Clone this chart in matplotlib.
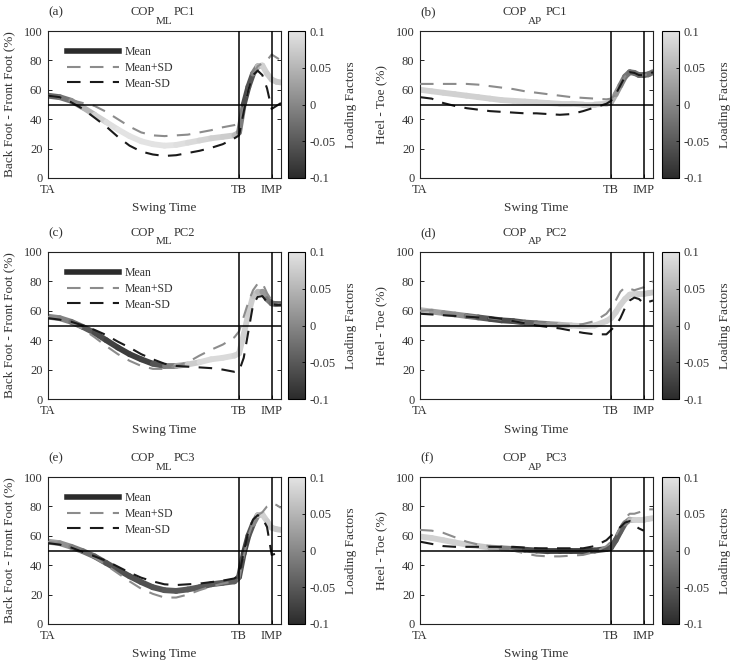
import numpy as np
import matplotlib
matplotlib.use('Agg')
import matplotlib.pyplot as plt
from matplotlib.collections import LineCollection
from matplotlib.colors import LinearSegmentedColormap, Normalize
from matplotlib.cm import ScalarMappable
from matplotlib.lines import Line2D

plt.rcParams['font.family'] = ['Liberation Serif', 'DejaVu Serif']

nan = np.nan
# ---------------- data ----------------
swing_time = [0, 5, 10, 15, 20, 25, 30, 35, 40, 45, 50, 55, 60, 65, 70, 75, 80,
              82, 84, 86, 88, 90, 92, 94, 96, 98, 100]
tick_pos = [0, 82, 96]
tick_labels = ['TA', 'TB', 'IMP']
events = [82, 96]

# (a) COP_ML PC1
mean_a = [56, 55, 52.5, 48, 43, 38, 33, 28.5, 25, 23, 22, 22.5, 24, 25.5, 27, 28, 29,
          31, 50, 62, 71, 76, 76.5, 71, 67, 65.5, 65]
plus_a = [56, 55, 53, 51, 49, 45, 40, 35, 31, 29, 28.5, 29, 29.5, 31, 32.5, 34.5, 36,
          37, 47, 60, 70, 76, 78, 80, 84, 82, 80]
minus_a = [56, 55, 51.5, 47, 41, 35, 28, 22, 18, 16, 15, 15.5, 17, 18.5, 20.5, 23, 27,
           29, 45, 60, 70, 73, 70, 61, 47, 49, 51]
load_a = [-0.04, -0.03, -0.01, 0.03, 0.07, 0.09, 0.1, 0.1, 0.1, 0.1, 0.1, 0.1, 0.09, 0.09, 0.08, 0.08, 0.07,
          0.04, -0.06, -0.07, -0.04, 0.03, 0.08, 0.08, 0.07, 0.07, 0.07]

# (b) COP_AP PC1
mean_b = [60, 59, 58, 57, 56, 55, 54, 53, 52.5, 52, 51.5, 51, 50.5, 50.5, 50, 50, 50.5,
          51.5, 57, 63, 69, 72, 71.5, 70, 70, 70.5, 72]
plus_b = [64, 64, 64, 64, 64, 63.5, 62.5, 61.5, 60.5, 59, 58, 57, 56, 55, 54.5, 54, 53.5,
          54, 57, 63, 69, 72, 71.5, 70, 70, 70.5, 72]
minus_b = [55, 54, 51, 49, 47.5, 46.5, 45.5, 45, 44.5, 44, 44, 43.5, 43, 43.5, 45.5, 48, 50.5,
           52.5, 57, 63, 69, 72, 71.5, 70, 70, 70.5, 72]
load_b = [0.08, 0.08, 0.08, 0.08, 0.08, 0.08, 0.08, 0.08, 0.08, 0.08, 0.08, 0.08, 0.08, 0.08, 0.08, 0.08, 0.07,
          0.06, 0.03, 0.0, -0.02, -0.02, -0.03, -0.02, -0.04, -0.03, -0.02]

# (c) COP_ML PC2
mean_c = [56, 55, 52.5, 49, 45, 40, 35, 30.5, 27, 24, 22.5, 22.5, 23.5, 25, 27, 28, 29.5,
          31, 44, 58, 70, 73, 73, 68, 65, 64.5, 64.5]
plus_c = [56, 54.5, 52, 47.5, 42, 36, 30.5, 26, 22.5, 20.5, 20.5, 22.5, 25, 29.5, 33.5, 37, 42,
          46, 56, 66, 74, 78.5, 79, 72, 67, 65, 64]
minus_c = [55, 54, 52.5, 50, 47, 43.5, 39, 35, 30.5, 27, 24, 22.5, 22, 21.5, 21, 20, 18.5,
           19, 28, 46, 64, 69.5, 70, 66, 64.5, 64, 64]
load_c = [0.0, 0.0, -0.01, -0.04, -0.06, -0.07, -0.08, -0.08, -0.08, -0.07, -0.04, 0.02, 0.06, 0.09, 0.09, 0.09, 0.09,
          0.08, 0.08, 0.08, 0.07, 0.06, 0.04, 0.0, -0.03, -0.03, -0.03]

# (d) COP_AP PC2
mean_d = [60.5, 59.5, 58.5, 57.5, 56.5, 55.5, 54.5, 53.5, 53, 52, 51.5, 51, 50.5, 50, 49.5, 50, 53,
          55, 59, 64, 68, 71, 71.5, 71.5, 71.5, 72, 72.5]
plus_d = [60, 60.5, 59, 58, 57, 56, 55, 54, 53, 52, 51.5, 51, 50, 50, 51, 53, 58,
          62, 67, 73, 76, 75, 74, 75, 76, 79, 80]
minus_d = [58, 57.5, 57, 56.5, 56, 55.5, 55.5, 54.5, 53, 51.5, 50, 49, 48, 46.5, 45, 44, 44,
           47, 50, 55, 62, 67, 69, 68, 65, 66, 67]
load_d = [0.06, 0.05, 0.0, 0.02, 0.0, -0.04, -0.06, -0.07, -0.06, -0.05, -0.03, 0.0, 0.04, 0.07, 0.08, 0.08, 0.08,
          0.08, 0.08, 0.08, 0.08, 0.08, 0.08, 0.08, 0.07, 0.07, 0.07]

# (e) COP_ML PC3
mean_e = [56, 55, 52.5, 49.5, 46, 41.5, 37, 32.5, 28.5, 25, 23, 22.5, 23.5, 25, 27, 28, 29,
          32, 48, 60, 68, 74, 74.5, 70, 65.5, 64.5, 64]
plus_e = [56, 55, 52.5, 49, 45, 40, 34.5, 29, 24, 20.5, 18, 18, 20, 23, 25.5, 27.5, 29,
          30, 46, 60, 69, 74, 76, 80, 82, 81, 79]
minus_e = [55, 54, 52, 49, 46, 43, 39, 35, 31.5, 29, 27, 26.5, 27, 27.5, 28.5, 29.5, 31,
           33, 49, 63, 71, 74, 72, 66, 47, 48, 52]
load_e = [0.03, 0.02, 0.0, -0.02, -0.03, -0.05, -0.06, -0.06, -0.06, -0.06, -0.05, -0.05, -0.05, -0.05, -0.05, -0.05, -0.04,
          -0.05, -0.07, -0.07, -0.04, 0.04, 0.08, 0.08, 0.07, 0.07, 0.07]

# (f) COP_AP PC3
mean_f = [59.5, 58.5, 57, 55.5, 54, 53, 52, 51.5, 51, 50.5, 50, 49.5, 49.5, 49.5, 49.5, 50, 51,
          52, 57, 63, 68.5, 71, 71, 71, 71, 71.5, 72]
plus_f = [64, 63.5, 62, 59, 56, 54, 53, 52, 50, 48, 46.5, 46, 46, 46.5, 47, 49, 53,
          56, 60, 66, 72, 75, 75, 76, 77, 78, 78]
minus_f = [56, 54.5, 53, 52.5, 52.5, 52.5, 52.5, 52.5, 52.5, 52, 51.5, 51.5, 51.5, 51.5, 51.5, 53, 57,
           60, 63, 66, 69, 70, 67, 65, 63.5, nan, nan]
load_f = [0.08, 0.08, 0.08, 0.08, 0.08, 0.08, 0.06, 0.02, -0.03, -0.06, -0.07, -0.07, -0.08, -0.08, -0.08, -0.07, -0.06,
          -0.05, -0.05, -0.05, -0.04, 0.03, 0.08, 0.08, 0.08, 0.08, 0.08]

panels = [
    ('(a)', 'ML', 'PC1', mean_a, plus_a, minus_a, load_a),
    ('(b)', 'AP', 'PC1', mean_b, plus_b, minus_b, load_b),
    ('(c)', 'ML', 'PC2', mean_c, plus_c, minus_c, load_c),
    ('(d)', 'AP', 'PC2', mean_d, plus_d, minus_d, load_d),
    ('(e)', 'ML', 'PC3', mean_e, plus_e, minus_e, load_e),
    ('(f)', 'AP', 'PC3', mean_f, plus_f, minus_f, load_f),
]
ylabels = ['Back Foot - Front Foot (%)', 'Heel - Toe (%)']
cb_ticks = [-0.1, -0.05, 0, 0.05, 0.1]
cb_ticklabels = ['-0.1', '-0.05', '0', '0.05', '0.1']

# ---------------- style ----------------
TXT = '#333333'
FS = 9
cmap = LinearSegmentedColormap.from_list('lf', ['#2b2b2b', '#e3e3e3'])
norm = Normalize(-0.1, 0.1)
PLUS_C = '#8c8c8c'
MINUS_C = '#1a1a1a'
DASH = (6.5, 4.5)

fig = plt.figure(figsize=(7.34, 6.61), dpi=100)
ax_left = [48 / 734, 420 / 734]
cb_left = [288 / 734, 662 / 734]
bottoms = [1 - 178 / 661, 1 - 399 / 661, 1 - 624 / 661]
W = 233 / 734
H = 147 / 661
CBW = 17 / 734

x = np.asarray(swing_time, dtype=float)
for i, (letter, comp, pc, mean, plus, minus, load) in enumerate(panels):
    r, c = divmod(i, 2)
    ax = fig.add_axes([ax_left[c], bottoms[r], W, H])
    y = np.asarray(mean, dtype=float)
    lv = np.asarray(load, dtype=float)
    pts = np.column_stack([x, y])
    segs = np.stack([pts[:-1], pts[1:]], axis=1)
    lc = LineCollection(segs, cmap=cmap, norm=norm, linewidths=4.2,
                        capstyle='round', joinstyle='round', zorder=2)
    lc.set_array((lv[:-1] + lv[1:]) / 2)
    ax.add_collection(lc)
    ax.plot(x, plus, color=PLUS_C, lw=1.5, dashes=DASH, zorder=3)
    ax.plot(x, minus, color=MINUS_C, lw=1.5, dashes=DASH, zorder=3)
    ax.axhline(50, color='black', lw=1.1, zorder=4)
    for e in events:
        ax.axvline(e, color='black', lw=1.1, zorder=4)

    ax.set_xlim(0, 100)
    ax.set_ylim(0, 100)
    ax.set_yticks(range(0, 101, 20))
    ax.set_xticks(tick_pos)
    ax.set_xticklabels(tick_labels)
    ax.tick_params(axis='both', direction='in', length=3, labelsize=FS,
                   labelcolor=TXT, color='#222222', width=0.7)
    ax.tick_params(axis='y', right=True, pad=4)
    ax.tick_params(axis='x', top=False, pad=4)
    for s in ax.spines.values():
        s.set_linewidth(0.8)
        s.set_color('#222222')
    ax.set_xlabel('Swing Time', fontsize=9.5, color=TXT, labelpad=5)
    ax.set_ylabel(ylabels[c], fontsize=9.5, color=TXT, labelpad=6)

    # title: COP with lowered subscript, then PC
    ax.text(0.352, 1 + 16 / 147, 'COP', transform=ax.transAxes, ha='left',
            va='baseline', fontsize=9, color=TXT)
    ax.text(0.462, 1 + 7.5 / 147, comp, transform=ax.transAxes, ha='left',
            va='baseline', fontsize=8, color=TXT)
    ax.text(0.540, 1 + 16 / 147, pc, transform=ax.transAxes, ha='left',
            va='baseline', fontsize=9, color=TXT)
    ax.text(0.0, 1 + 19 / 147, letter, transform=ax.transAxes, ha='left', va='center',
            fontsize=9.5, color=TXT)

    if c == 0:
        handles = [Line2D([], [], color='#2b2b2b', lw=4),
                   Line2D([], [], color=PLUS_C, lw=1.5, dashes=DASH),
                   Line2D([], [], color=MINUS_C, lw=1.5, dashes=DASH)]
        leg = ax.legend(handles, ['Mean', 'Mean+SD', 'Mean-SD'], loc='upper left',
                        bbox_to_anchor=(0.082, 0.895), frameon=False, fontsize=8.5,
                        borderpad=0, borderaxespad=0, handlelength=4.4,
                        handletextpad=0.5, labelspacing=0.3)
        for t in leg.get_texts():
            t.set_color(TXT)

    cax = fig.add_axes([cb_left[c], bottoms[r], CBW, H])
    cb = fig.colorbar(ScalarMappable(norm=norm, cmap=cmap), cax=cax, ticks=cb_ticks)
    cb.ax.set_yticklabels(cb_ticklabels)
    cb.ax.tick_params(direction='in', length=2.5, labelsize=FS, labelcolor=TXT,
                      width=0.6, pad=3)
    cb.outline.set_linewidth(0.8)
    cb.set_label('Loading Factors', fontsize=9.5, color=TXT, labelpad=7)

fig.savefig('out.png', dpi=100)
